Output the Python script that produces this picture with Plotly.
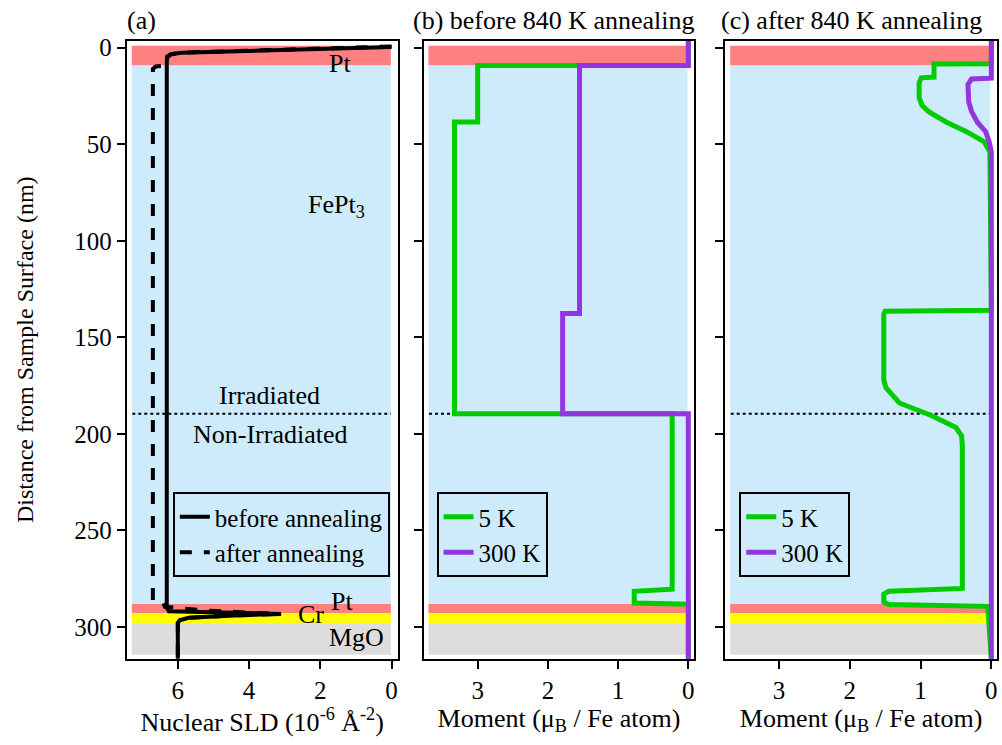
import plotly.graph_objects as go

# ---------------- data ----------------
# Panel (a): nuclear SLD profiles (x = SLD, y = depth nm)
sld_before_depth = [-0.4, 0.8, 1.8, 2.6, 3.4, 4.6, 8, 100, 200, 290, 291.8, 292.6, 293.2, 294.0, 295.2, 296.5, 298, 317]
sld_before_val = [0.0, 2.5, 4.8, 5.9, 6.2, 6.3, 6.31, 6.31, 6.31, 6.31, 6.25, 4.6, 3.1, 4.4, 5.7, 5.95, 6.0, 6.0]
sld_after_depth = [-0.6, 0.6, 1.6, 2.6, 3.6, 5.0, 9.2, 9.7, 11, 100, 200, 286.3, 287.2, 289.5, 291.5, 292.6, 293.2, 294.0, 295.2, 296.5, 298, 317]
sld_after_val = [0.0, 2.5, 4.8, 5.95, 6.2, 6.3, 6.3, 6.62, 6.7, 6.7, 6.7, 6.7, 6.42, 6.36, 5.2, 4.0, 3.2, 4.4, 5.7, 5.95, 6.0, 6.0]

# Panel (b): moment before annealing
b5_depth = [-4, 9.2, 9.2, 38.5, 38.5, 189.5, 189.5, 280.4, 281.5, 287.6, 288.2, 317]
b5_val = [0.0, 0.0, 3.0, 3.0, 3.33, 3.33, 0.23, 0.23, 0.77, 0.77, 0.0, 0.0]
b300_depth = [-4, 9.2, 9.2, 137.6, 137.6, 189.5, 189.5, 317]
b300_val = [0.0, 0.0, 1.55, 1.55, 1.79, 1.79, 0.0, 0.0]

# Panel (c): moment after annealing
c5_depth = [-4, 8.3, 8.5, 15.2, 15.6, 18, 26, 29.8, 33.3, 38.5, 43.5, 48.8, 54, 136.0, 136.5, 138, 172, 176, 184,
            190.6, 196.7, 201, 206, 280, 281.5, 283, 287, 288.3, 289.3, 317]
c5_val = [0.0, 0.0, 0.81, 0.81, 0.99, 1.02, 1.02, 0.98, 0.88, 0.64, 0.35, 0.10, 0.02, 0.0, 1.50, 1.52, 1.52, 1.49,
          1.30, 0.84, 0.50, 0.42, 0.41, 0.41, 1.45, 1.52, 1.52, 1.45, 0.05, 0.0]
c300_depth = [-4, 15.8, 16.2, 19, 28, 33, 38.5, 43.5, 48.8, 54, 317]
c300_val = [0.0, 0.0, 0.28, 0.33, 0.32, 0.28, 0.20, 0.08, 0.03, 0.0, 0.0]

# Layer boundaries (nm) and colours
layer_top = [-1.0, 9.2, 288.1, 292.7, 298.4]
layer_bot = [9.2, 288.1, 292.7, 298.4, 314.3]
layer_col = ["#FF8080", "#CDEBFB", "#FF8080", "#FFFF00", "#DDDDDD"]
interface_depth = 189.5

y_ticks = [0, 50, 100, 150, 200, 250, 300]
GREEN = "#00CC00"
PURPLE = "#9436E0"
FONT = "'Liberation Serif', 'Times New Roman', Times, serif"
FS_TICK = 25
FS_TITLE = 26
FS_LEG = 25
FS_YT = 24

W, H = 1002, 745
def px_x(p):
    return p / W
def px_y(p):
    return 1 - p / H

fig = go.Figure()

# panel (a)
fig.add_trace(go.Scatter(x=sld_after_val, y=sld_after_depth, mode="lines", name="after annealing",
                         line=dict(color="black", width=4, dash="dash"), xaxis="x", yaxis="y",
                         legend="legend", legendrank=2))
fig.add_trace(go.Scatter(x=sld_before_val, y=sld_before_depth, mode="lines", name="before annealing",
                         line=dict(color="black", width=4), xaxis="x", yaxis="y",
                         legend="legend", legendrank=1))
# panel (b)
fig.add_trace(go.Scatter(x=b5_val, y=b5_depth, mode="lines", name="5 K",
                         line=dict(color=GREEN, width=5), xaxis="x2", yaxis="y2", legend="legend2"))
fig.add_trace(go.Scatter(x=b300_val, y=b300_depth, mode="lines", name="300 K",
                         line=dict(color=PURPLE, width=5), xaxis="x2", yaxis="y2", legend="legend2"))
# panel (c)
fig.add_trace(go.Scatter(x=c5_val, y=c5_depth, mode="lines", name="5 K",
                         line=dict(color=GREEN, width=5), xaxis="x3", yaxis="y3", legend="legend3"))
fig.add_trace(go.Scatter(x=c300_val, y=c300_depth, mode="lines", name="300 K",
                         line=dict(color=PURPLE, width=5), xaxis="x3", yaxis="y3", legend="legend3"))

# layer bands + interface line
shapes = []
for sfx in ["", "2", "3"]:
    for t, b, c in zip(layer_top, layer_bot, layer_col):
        shapes.append(dict(type="rect", xref=f"x{sfx} domain", yref=f"y{sfx}", x0=0.018, x1=0.975,
                           y0=t, y1=b, fillcolor=c, line=dict(width=0), layer="below"))
    shapes.append(dict(type="line", xref=f"x{sfx} domain", yref=f"y{sfx}", x0=0.02, x1=0.975,
                       y0=interface_depth, y1=interface_depth, line=dict(color="black", width=2, dash="dot"),
                       layer="below"))

ydom = [px_y(658), px_y(35)]
yrange = [316.4, -3.6]
axis_common = dict(showline=True, linecolor="black", linewidth=2, mirror=True, ticks="outside",
                   ticklen=8, tickwidth=2, tickcolor="black", showgrid=False, zeroline=False,
                   tickfont=dict(family=FONT, size=FS_TICK, color="black"))

layout = dict(
    width=W, height=H, margin=dict(l=0, r=0, t=0, b=0),
    paper_bgcolor="white", plot_bgcolor="white",
    font=dict(family=FONT, size=FS_TICK, color="black"),
    shapes=shapes,
    xaxis=dict(domain=[px_x(127), px_x(398)], range=[7.43, -0.17], anchor="y", tickvals=[0, 2, 4, 6],
               title=dict(text="Nuclear SLD (10<sup>-6</sup> Å<sup>-2</sup>)", font=dict(family=FONT, size=FS_TITLE),
                          standoff=4),
               **axis_common),
    xaxis2=dict(domain=[px_x(424), px_x(695)], range=[3.77, -0.085], anchor="y2", tickvals=[0, 1, 2, 3],
                title=dict(text="Moment (μ<sub>B</sub> / Fe atom)", font=dict(family=FONT, size=FS_TITLE), standoff=4),
                **axis_common),
    xaxis3=dict(domain=[px_x(726), px_x(998)], range=[3.76, -0.08], anchor="y3", tickvals=[0, 1, 2, 3],
                title=dict(text="Moment (μ<sub>B</sub> / Fe atom)", font=dict(family=FONT, size=FS_TITLE), standoff=4),
                **axis_common),
    yaxis=dict(domain=ydom, range=yrange, anchor="x", tickvals=y_ticks,
               title=dict(text="Distance from Sample Surface (nm)", font=dict(family=FONT, size=FS_YT), standoff=34),
               **axis_common),
    yaxis2=dict(domain=ydom, range=yrange, anchor="x2", tickvals=y_ticks, showticklabels=False, **axis_common),
    yaxis3=dict(domain=ydom, range=yrange, anchor="x3", tickvals=y_ticks, showticklabels=False, **axis_common),
)

leg_common = dict(bgcolor="rgba(0,0,0,0)", bordercolor="black", borderwidth=2,
                  font=dict(family=FONT, size=FS_LEG, color="black"), xanchor="left", yanchor="top",
                  tracegroupgap=0, itemwidth=30)
layout["legend"] = dict(x=px_x(173), y=px_y(490), **leg_common)
layout["legend2"] = dict(x=px_x(437), y=px_y(490), **leg_common)
layout["legend3"] = dict(x=px_x(740), y=px_y(490), **leg_common)

fig.update_layout(**layout)

# panel titles
def paper_text(text, x, y, xanchor="left", size=FS_TITLE):
    fig.add_annotation(text=text, x=px_x(x), y=px_y(y), xref="paper", yref="paper", showarrow=False,
                       xanchor=xanchor, yanchor="middle",
                       font=dict(family=FONT, size=size, color="black"))

paper_text("(a)", 125, 15)
paper_text("(b) before 840 K annealing", 411, 15)
paper_text("(c) after 840 K annealing", 720, 15)

# layer labels in panel (a)
def data_text(text, x, y):
    fig.add_annotation(text=text, x=x, y=y, xref="x", yref="y", showarrow=False,
                       xanchor="center", yanchor="middle", font=dict(family=FONT, size=FS_TITLE, color="black"))

data_text("Pt", 1.46, 8.0)
data_text("FePt<sub>3</sub>", 1.55, 82)
data_text("Irradiated", 3.42, 180.3)
data_text("Non-Irradiated", 3.42, 200.3)
data_text("Cr", 2.27, 293.5)
data_text("Pt", 1.38, 286.6)
data_text("MgO", 0.99, 305.6)

fig.write_html("out.html")
